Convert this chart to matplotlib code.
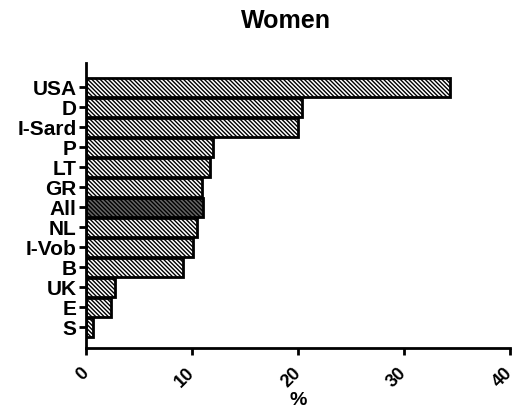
import matplotlib
matplotlib.use("Agg")
import matplotlib.pyplot as plt

plt.rcParams['font.family'] = ['Liberation Sans', 'DejaVu Sans']
plt.rcParams['font.weight'] = 'bold'
plt.rcParams['hatch.linewidth'] = 1.0

# countries from bottom to top
countries = ["S", "E", "UK", "B", "I-Vob", "NL", "All", "GR", "LT", "P", "I-Sard", "D", "USA"]
percent = [0.6, 2.3, 2.7, 9.1, 10.1, 10.5, 11.0, 10.9, 11.7, 12.0, 20.0, 20.4, 34.4]
xticks = [0, 10, 20, 30, 40]

fig = plt.figure(figsize=(5.16, 4.16), dpi=100)
ax = fig.add_axes([0.167, 0.163, 0.821, 0.685])

pos = list(range(len(countries)))
colors = ["#666666" if c == "All" else "white" for c in countries]
ax.barh(pos, percent, height=0.95, color=colors, edgecolor="black",
        linewidth=2, hatch="\\" * 8)

ax.set_xlim(0, 40)
ax.set_ylim(-1.05, 13.2)
ax.set_xticks(xticks)
ax.set_xticklabels([str(t) for t in xticks], rotation=45, fontsize=13,
                   fontweight="bold", ha="right", va="center",
                   rotation_mode="anchor")
ax.set_yticks(pos)
ax.set_yticklabels(countries, fontsize=15, fontweight="bold")
ax.tick_params(axis="both", width=2, length=5, direction="out")
ax.tick_params(axis="x", pad=11)
ax.tick_params(axis="y", pad=2)

for side in ["top", "right"]:
    ax.spines[side].set_visible(False)
for side in ["left", "bottom"]:
    ax.spines[side].set_linewidth(2)

ax.set_xlabel("%", fontsize=14, fontweight="bold")
ax.xaxis.set_label_coords(0.5, -0.152)
fig.text(0.555, 0.950, "Women", ha="center", va="center", fontsize=18, fontweight="bold")

fig.savefig("out.png", dpi=100)
